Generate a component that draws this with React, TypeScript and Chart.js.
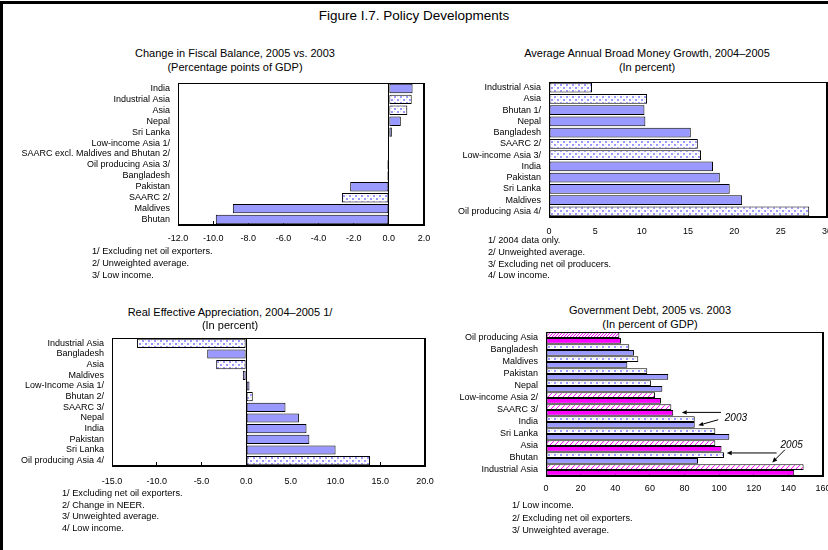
import React, { useEffect, useRef } from 'react';
import { Chart, registerables } from 'chart.js';
Chart.register(...registerables);

const FONT = '"Liberation Sans", Arial, Helvetica, sans-serif';
Chart.defaults.font.family = FONT;
Chart.defaults.font.size = 9;
Chart.defaults.color = '#000';

// ---------- Panel 1: Change in Fiscal Balance ----------
const fiscalCategories = ['India', 'Industrial Asia', 'Asia', 'Nepal', 'Sri Lanka', 'Low-income Asia 1/', 'SAARC excl. Maldives and Bhutan 2/', 'Oil producing Asia 3/', 'Bangladesh', 'Pakistan', 'SAARC 2/', 'Maldives', 'Bhutan'];
const fiscalValues = [1.35, 1.3, 1.05, 0.68, 0.17, 0, 0, -0.08, -0.08, -2.2, -2.67, -8.88, -9.85];
const fiscalTicks = [-12, -10, -8, -6, -4, -2, 0, 2];
const fiscalPatterned = ['Industrial Asia', 'Asia', 'SAARC 2/'];
const fiscalFootnotes = ['1/ Excluding net oil exporters.', '2/ Unweighted average.', '3/ Low income.'];

// ---------- Panel 2: Broad Money Growth ----------
const moneyCategories = ['Industrial Asia', 'Asia', 'Bhutan 1/', 'Nepal', 'Bangladesh', 'SAARC 2/', 'Low-income Asia 3/', 'India', 'Pakistan', 'Sri Lanka', 'Maldives', 'Oil producing Asia 4/'];
const moneyValues = [4.64, 10.58, 10.3, 10.4, 15.3, 16.06, 16.4, 17.7, 18.43, 19.5, 20.84, 28.08];
const moneyTicks = [0, 5, 10, 15, 20, 25, 30];
const moneyPatterned = ['Industrial Asia', 'Asia', 'SAARC 2/', 'Low-income Asia 3/', 'Oil producing Asia 4/'];
const moneyFootnotes = ['1/ 2004 data only.', '2/ Unweighted average.', '3/ Excluding net oil producers.', '4/ Low income.'];

// ---------- Panel 3: Real Effective Appreciation ----------
const reerCategories = ['Industrial Asia', 'Bangladesh', 'Asia', 'Maldives', 'Low-Income Asia 1/', 'Bhutan 2/', 'SAARC 3/', 'Nepal', 'India', 'Pakistan', 'Sri Lanka', 'Oil producing Asia 4/'];
const reerValues = [-12.2, -4.35, -3.35, -0.37, 0.37, 0.74, 4.4, 5.9, 6.75, 7.07, 10.0, 13.85];
const reerTicks = [-15, -10, -5, 0, 5, 10, 15, 20];
const reerPatterned = ['Industrial Asia', 'Asia', 'Bhutan 2/', 'Oil producing Asia 4/'];
const reerFootnotes = ['1/ Excluding net oil exporters.', '2/ Change in NEER.', '3/ Unweighted average.', '4/ Low income.'];

// ---------- Panel 4: Government Debt ----------
const debtCategories = ['Oil producing Asia', 'Bangladesh', 'Maldives', 'Pakistan', 'Nepal', 'Low-income Asia 2/', 'SAARC 3/', 'India', 'Sri Lanka', 'Asia', 'Bhutan', 'Industrial Asia'];
const debt2005 = [42.4, 48.1, 53.3, 58.5, 60.6, 63.0, 72.4, 85.9, 97.8, 97.8, 102.8, 148.8];
const debt2003 = [43.3, 50.8, 47.0, 70.6, 67.2, 66.4, 73.5, 85.9, 105.9, 101.4, 87.8, 143.4];
const debtTicks = [0, 20, 40, 60, 80, 100, 120, 140, 160];
const debtAggregates = ['Oil producing Asia', 'Low-income Asia 2/', 'SAARC 3/', 'Asia', 'Industrial Asia'];
const debtFootnotes = ['1/ Low income.', '2/ Excluding net oil exporters.', '3/ Unweighted average.'];
// callouts, in data units (value, category index)
const debtCallouts = [
  { text: '2003', at: [109.7, 6.67] },
  { text: '2005', at: [141.9, 8.95] },
];
const debtArrows = [
  { from: [101.1, 6.2], to: [78.4, 6.2] },
  { from: [99.5, 6.81], to: [88.0, 7.28] },
  { from: [133.2, 9.58], to: [104.4, 9.58] },
  { from: [138.0, 9.31], to: [130.7, 10.37] },
];

const BLUE = '#9999ff';
const MAG = '#ff00ff';
const EDGE = '#000000';
const CLEAR = 'rgba(0,0,0,0)';

function dotPattern(): CanvasPattern {
  const c = document.createElement('canvas');
  c.width = 6; c.height = 6;
  const g = c.getContext('2d')!;
  g.fillStyle = '#ffffff';
  g.fillRect(0, 0, 6, 6);
  g.fillStyle = BLUE;
  g.fillRect(1, 1, 2, 2);
  g.fillRect(4, 4, 2, 2);
  g.fillStyle = '#d6d6ff';
  g.fillRect(4, 1, 1, 1);
  g.fillRect(1, 4, 1, 1);
  return g.createPattern(c, 'repeat')!;
}

function hatchPattern(s: number): CanvasPattern {
  const c = document.createElement('canvas');
  c.width = s; c.height = s;
  const g = c.getContext('2d')!;
  g.fillStyle = '#ffffff';
  g.fillRect(0, 0, s, s);
  g.fillStyle = MAG;
  for (let i = 0; i < s; i++) g.fillRect(i, s - 1 - i, 1, 1);
  return g.createPattern(c, 'repeat')!;
}

// a fresh instance for each chart: box round the plot area
function makeBoxPlugin() {
  return {
    id: 'plotBox',
    afterDraw(chart: any) {
      const ctx = chart.ctx;
      const xs = chart.scales.x, ys = chart.scales.y;
      const L = Math.round(xs.getPixelForValue(xs.min));
      const R = Math.round(xs.getPixelForValue(xs.max)) - 1;
      const T = Math.round(ys.top);
      const B = Math.round(ys.bottom) - 1;
      ctx.save();
      ctx.fillStyle = '#000000';
      ctx.fillRect(L, T, R - L + 1, 1);
      ctx.fillRect(L, B, R - L + 1, 1);
      ctx.fillRect(L, T, 1, B - T + 1);
      ctx.fillRect(R, T, 1, B - T + 1);
      ctx.restore();
    },
  };
}

const calloutPlugin = {
  id: 'debtCallouts',
  afterDraw(chart: any) {
    const { ctx, scales } = chart;
    const X = (v: number) => scales.x.getPixelForValue(v);
    const Y = (v: number) => scales.y.getPixelForValue(v);
    ctx.save();
    ctx.strokeStyle = '#000';
    ctx.fillStyle = '#000';
    ctx.lineWidth = 1;
    debtArrows.forEach((ar) => {
      const x1 = X(ar.from[0]), y1 = Y(ar.from[1]);
      const x2 = X(ar.to[0]), y2 = Y(ar.to[1]);
      const ang = Math.atan2(y2 - y1, x2 - x1);
      const hl = 5, hw = 2.2;
      const bx = x2 - hl * Math.cos(ang), by = y2 - hl * Math.sin(ang);
      ctx.beginPath();
      ctx.moveTo(x1, y1); ctx.lineTo(bx, by);
      ctx.stroke();
      ctx.beginPath();
      ctx.moveTo(x2, y2);
      ctx.lineTo(bx + hw * Math.sin(ang), by - hw * Math.cos(ang));
      ctx.lineTo(bx - hw * Math.sin(ang), by + hw * Math.cos(ang));
      ctx.closePath();
      ctx.fill();
    });
    ctx.font = `italic 10px ${FONT}`;
    ctx.textAlign = 'center';
    ctx.textBaseline = 'middle';
    debtCallouts.forEach((c) => ctx.fillText(c.text, X(c.at[0]), Y(c.at[1])));
    ctx.restore();
  },
};

type Geo = { L: number; T: number; W: number; H: number; left: number; right: number; top: number; bottom: number; labelY: number };

function baseOptions(g: Geo, min: number, max: number, ticks: number[], fmt: (v: number) => string, catPct: number, barPct: number) {
  const TICK = 4;
  return {
    indexAxis: 'y' as const,
    animation: false as const,
    responsive: false,
    maintainAspectRatio: false,
    events: [] as any[],
    layout: { padding: { top: g.top - g.T, right: g.L + g.W - g.right, left: 0, bottom: 0 } },
    datasets: { bar: { categoryPercentage: catPct, barPercentage: barPct } },
    plugins: { legend: { display: false }, tooltip: { enabled: false }, title: { display: false } },
    scales: {
      x: {
        type: 'linear' as const,
        min, max,
        grid: {
          display: true,
          drawOnChartArea: true,
          drawTicks: true,
          tickLength: -TICK,
          tickColor: '#000000',
          lineWidth: 1,
          color: (c: any) => {
            const v = c.tick ? c.tick.value : NaN;
            return v === min || v === max || v === 0 ? '#000000' : CLEAR;
          },
        },
        border: { display: true, color: '#000000', width: 1 },
        afterBuildTicks: (s: any) => { s.ticks = ticks.map((v) => ({ value: v })); },
        afterFit: (s: any) => { s.height = g.T + g.H - g.bottom; },
        ticks: { padding: g.labelY - g.bottom - 5.4 + TICK, autoSkip: false, maxRotation: 0, color: '#000', font: { size: 9 }, callback: (v: any) => fmt(Number(v)) },
      },
      y: {
        type: 'category' as const,
        offset: true,
        grid: {
          display: true,
          offset: true,
          drawOnChartArea: true,
          drawTicks: false,
          lineWidth: 1,
          color: (c: any) => (c.type === 'scale' || c.index === 0 ? '#000000' : CLEAR),
        },
        border: { display: true, color: '#000000', width: 1 },
        afterFit: (s: any) => { s.width = g.left - g.L; },
        ticks: { padding: 8, autoSkip: false, color: '#000', font: { size: 9 } },
      },
    },
  };
}

const G1: Geo = { L: 0, T: 50, W: 450, H: 215, left: 178, right: 424, top: 83, bottom: 225, labelY: 239 };
const G2: Geo = { L: 430, T: 50, W: 420, H: 210, left: 549, right: 827, top: 82, bottom: 217, labelY: 231.5 };
const G3: Geo = { L: 0, T: 300, W: 450, H: 200, left: 112, right: 425, top: 338, bottom: 466, labelY: 482 };
const G4: Geo = { L: 430, T: 300, W: 420, H: 210, left: 546, right: 823, top: 332, bottom: 476, labelY: 489 };

function ChartBox({ geo, build }: { geo: Geo; build: () => any }) {
  const ref = useRef<HTMLCanvasElement>(null);
  useEffect(() => {
    const chart = new Chart(ref.current!, build());
    return () => chart.destroy();
  }, []);
  return (
    <canvas ref={ref} width={geo.W} height={geo.H}
      style={{ position: 'absolute', left: geo.L, top: geo.T, width: geo.W, height: geo.H }} />
  );
}

function singleSeries(geo: Geo, cats: string[], vals: number[], patterned: string[], min: number, max: number, ticks: number[], fmt: (v: number) => string) {
  return () => {
    const dots = dotPattern();
    return {
      type: 'bar',
      data: {
        labels: cats,
        datasets: [{
          data: vals,
          backgroundColor: cats.map((c) => (patterned.includes(c) ? dots : BLUE)),
          borderColor: EDGE,
          borderWidth: 1,
          borderSkipped: false,
        }],
      },
      options: baseOptions(geo, min, max, ticks, fmt, 1, 0.86),
      plugins: [makeBoxPlugin()],
    };
  };
}

const buildDebt = () => {
  const dots = dotPattern();
  const hatch = hatchPattern(5);
  const dense = hatchPattern(3);
  return {
    type: 'bar',
    data: {
      labels: debtCategories,
      datasets: [
        {
          label: '2005',
          data: debt2005,
          backgroundColor: debtCategories.map((c, i) => (debtAggregates.includes(c) ? (i === 0 ? dense : hatch) : dots)),
          borderColor: EDGE, borderWidth: 1, borderSkipped: false,
        },
        {
          label: '2003',
          data: debt2003,
          backgroundColor: debtCategories.map((c) => (debtAggregates.includes(c) ? MAG : BLUE)),
          borderColor: EDGE, borderWidth: 1, borderSkipped: false,
        },
      ],
    },
    options: baseOptions(G4, 0, 160, debtTicks, (v) => String(v), 0.96, 1),
    plugins: [makeBoxPlugin(), calloutPlugin],
  };
};

function Txt({ x, y, size, children, center }: { x: number; y: number; size: number; children: React.ReactNode; center?: boolean }) {
  return (
    <div style={{
      position: 'absolute', left: x, top: y - size * 0.6, fontSize: size, lineHeight: `${size * 1.2}px`,
      fontFamily: FONT, color: '#000', whiteSpace: 'nowrap',
      transform: center ? 'translateX(-50%)' : undefined,
    }}>{children}</div>
  );
}

function Notes({ x, ys, lines }: { x: number; ys: number[]; lines: string[] }) {
  return <>{lines.map((l, i) => <Txt key={i} x={x} y={ys[i]} size={9.2}>{l}</Txt>)}</>;
}

export default function App() {
  const fmt1 = (v: number) => v.toFixed(1);
  const fmt0 = (v: number) => String(v);
  return (
    <div style={{ position: 'absolute', left: 0, top: 0, width: 828, height: 550, overflow: 'hidden', background: '#fff' }}>
      <div style={{ position: 'absolute', left: 0, top: 1, width: 900, height: 600, borderLeft: '3px solid #000', borderTop: '3px solid #000' }} />
      <Txt x={414} y={16} size={13.5} center>Figure I.7. Policy Developments</Txt>

      <Txt x={235} y={54} size={11} center>Change in Fiscal Balance, 2005 vs. 2003</Txt>
      <Txt x={235} y={68} size={11} center>(Percentage points of GDP)</Txt>
      <ChartBox geo={G1} build={singleSeries(G1, fiscalCategories, fiscalValues, fiscalPatterned, -12, 2, fiscalTicks, fmt1)} />
      <Notes x={92} ys={[252, 264, 276]} lines={fiscalFootnotes} />

      <Txt x={647} y={54} size={11} center>Average Annual Broad Money Growth, 2004–2005</Txt>
      <Txt x={647} y={68} size={11} center>(In percent)</Txt>
      <ChartBox geo={G2} build={singleSeries(G2, moneyCategories, moneyValues, moneyPatterned, 0, 30, moneyTicks, fmt0)} />
      <Notes x={488} ys={[241, 253, 264.5, 276]} lines={moneyFootnotes} />

      <Txt x={230} y={313} size={11} center>Real Effective Appreciation, 2004–2005 1/</Txt>
      <Txt x={230} y={326} size={11} center>(In percent)</Txt>
      <ChartBox geo={G3} build={singleSeries(G3, reerCategories, reerValues, reerPatterned, -15, 20, reerTicks, fmt1)} />
      <Notes x={62} ys={[494, 505.5, 517, 528.5]} lines={reerFootnotes} />

      <Txt x={650} y={311} size={11} center>Government Debt, 2005 vs. 2003</Txt>
      <Txt x={650} y={325} size={11} center>(In percent of GDP)</Txt>
      <ChartBox geo={G4} build={buildDebt} />
      <Notes x={512} ys={[506, 519, 531]} lines={debtFootnotes} />
    </div>
  );
}
